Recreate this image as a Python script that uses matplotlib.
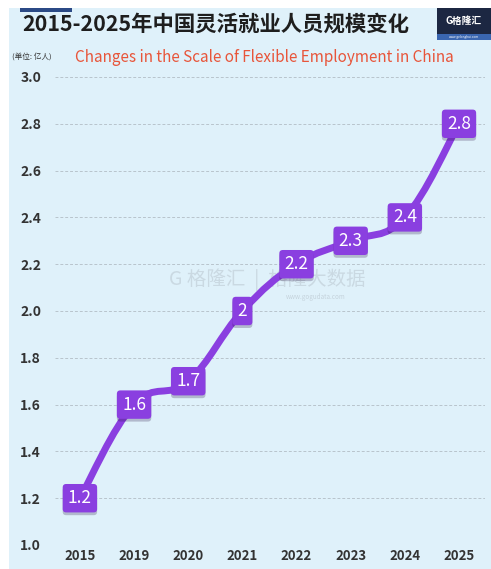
import matplotlib.pyplot as plt
from matplotlib.path import Path
from matplotlib.patches import PathPatch, Rectangle
import matplotlib.patheffects as pe

plt.rcParams['font.family'] = ['Noto Sans CJK SC', 'DejaVu Sans']

years = ["2015", "2019", "2020", "2021", "2022", "2023", "2024", "2025"]
values = [1.2, 1.6, 1.7, 2.0, 2.2, 2.3, 2.4, 2.8]
labels = ["1.2", "1.6", "1.7", "2", "2.2", "2.3", "2.4", "2.8"]
yticks = [1.0, 1.2, 1.4, 1.6, 1.8, 2.0, 2.2, 2.4, 2.6, 2.8, 3.0]

bg = "#dff1fa"
purple = "#8a3fe0"

fig = plt.figure(figsize=(4.91, 5.69), dpi=100)
fig.patch.set_facecolor("white")
# light blue panel
fig.patches.append(Rectangle((9 / 491, 0), 1, 1 - 8 / 569, transform=fig.transFigure,
                             facecolor=bg, edgecolor="none", zorder=-5))
# small dark bar top-left
fig.patches.append(Rectangle((20 / 491, 1 - 12 / 569), 52 / 491, 4 / 569, transform=fig.transFigure,
                             facecolor="#2b4a86", edgecolor="none", zorder=1))
# logo box top-right
fig.patches.append(Rectangle((437 / 491, 1 - 40 / 569), 54 / 491, 32 / 569, transform=fig.transFigure,
                             facecolor="#1c2742", edgecolor="none", zorder=1))
fig.patches.append(Rectangle((437 / 491, 1 - 40 / 569), 54 / 491, 6 / 569, transform=fig.transFigure,
                             facecolor="#3a66b0", edgecolor="none", zorder=2))
fig.text(464 / 491, 1 - 21 / 569, "G格隆汇", color="white", fontsize=7, fontweight="bold",
         ha="center", va="center", zorder=3)
fig.text(464 / 491, 1 - 37 / 569, "www.gelonghui.com", color="white", fontsize=2.3,
         ha="center", va="center", zorder=3)

fig.text(22 / 491, 1 - 24 / 569, "2015-2025年中国灵活就业人员规模变化", fontsize=15.4,
         fontweight="bold", color="#1e1e1e", ha="left", va="center")
fig.text(12 / 491, 1 - 57 / 569, "(单位: 亿人)", fontsize=5.5, color="#333333",
         ha="left", va="center")
fig.text(75 / 491, 1 - 57 / 569, "Changes in the Scale of Flexible Employment in China",
         fontsize=11, color="#e8553a", ha="left", va="center")

# faint watermark
fig.text(267 / 491, 1 - 280 / 569, "G 格隆汇  |  格隆大数据", fontsize=14, color="#c5d3dc",
         ha="center", va="center", zorder=1, alpha=0.8)
fig.text(316 / 491, 1 - 297 / 569, "www.gogudata.com", fontsize=4.5, color="#c5d3dc",
         ha="center", va="center", zorder=1)

ax = fig.add_axes([55 / 491, 1 - 545 / 569, 430 / 491, (545 - 77) / 569])
ax.set_zorder(2)
ax.set_facecolor("none")
x = list(range(len(years)))
ax.set_xlim(-0.46, 7.48)
ax.set_ylim(1.0, 3.0)
for s in ax.spines.values():
    s.set_visible(False)
ax.set_yticks(yticks)
ax.set_yticklabels([f"{t:.1f}" for t in yticks], fontsize=10, fontweight="bold", color="#333333")
ax.set_xticks(x)
ax.set_xticklabels(years, fontsize=9.5, fontweight="bold", color="#333333")
ax.tick_params(length=0, pad=10)
ax.tick_params(axis="x", pad=3)
ax.grid(axis="y", linestyle=(0, (3, 2)), color="#b8c4cc", linewidth=0.7)
ax.grid(axis="x", visible=False)

# smooth line through the points (cubic Bezier, Catmull-Rom style tangents)
verts = [(x[0], values[0])]
codes = [Path.MOVETO]
n = len(x)
for i in range(n - 1):
    p0 = (x[i - 1], values[i - 1]) if i > 0 else (x[i], values[i])
    p1 = (x[i], values[i])
    p2 = (x[i + 1], values[i + 1])
    p3 = (x[i + 2], values[i + 2]) if i + 2 < n else p2
    t = 0.2
    c1 = (p1[0] + (p2[0] - p0[0]) * t, p1[1] + (p2[1] - p0[1]) * t)
    c2 = (p2[0] - (p3[0] - p1[0]) * t, p2[1] - (p3[1] - p1[1]) * t)
    verts += [c1, c2, p2]
    codes += [Path.CURVE4] * 3
ax.add_patch(PathPatch(Path(verts, codes), facecolor="none", edgecolor=purple,
                       linewidth=5, capstyle="round", joinstyle="round", zorder=3))

for xi, v, lab in zip(x, values, labels):
    t = ax.text(xi, v, lab, fontsize=12.5, color="white", ha="center", va="center", zorder=5,
                bbox=dict(boxstyle="round,pad=0.3,rounding_size=0.2", facecolor=purple,
                          edgecolor="none"))
    t.get_bbox_patch().set_path_effects([pe.SimplePatchShadow(offset=(0, -2), alpha=0.25),
                                         pe.Normal()])

fig.savefig("out.png", dpi=100, facecolor=fig.get_facecolor())
